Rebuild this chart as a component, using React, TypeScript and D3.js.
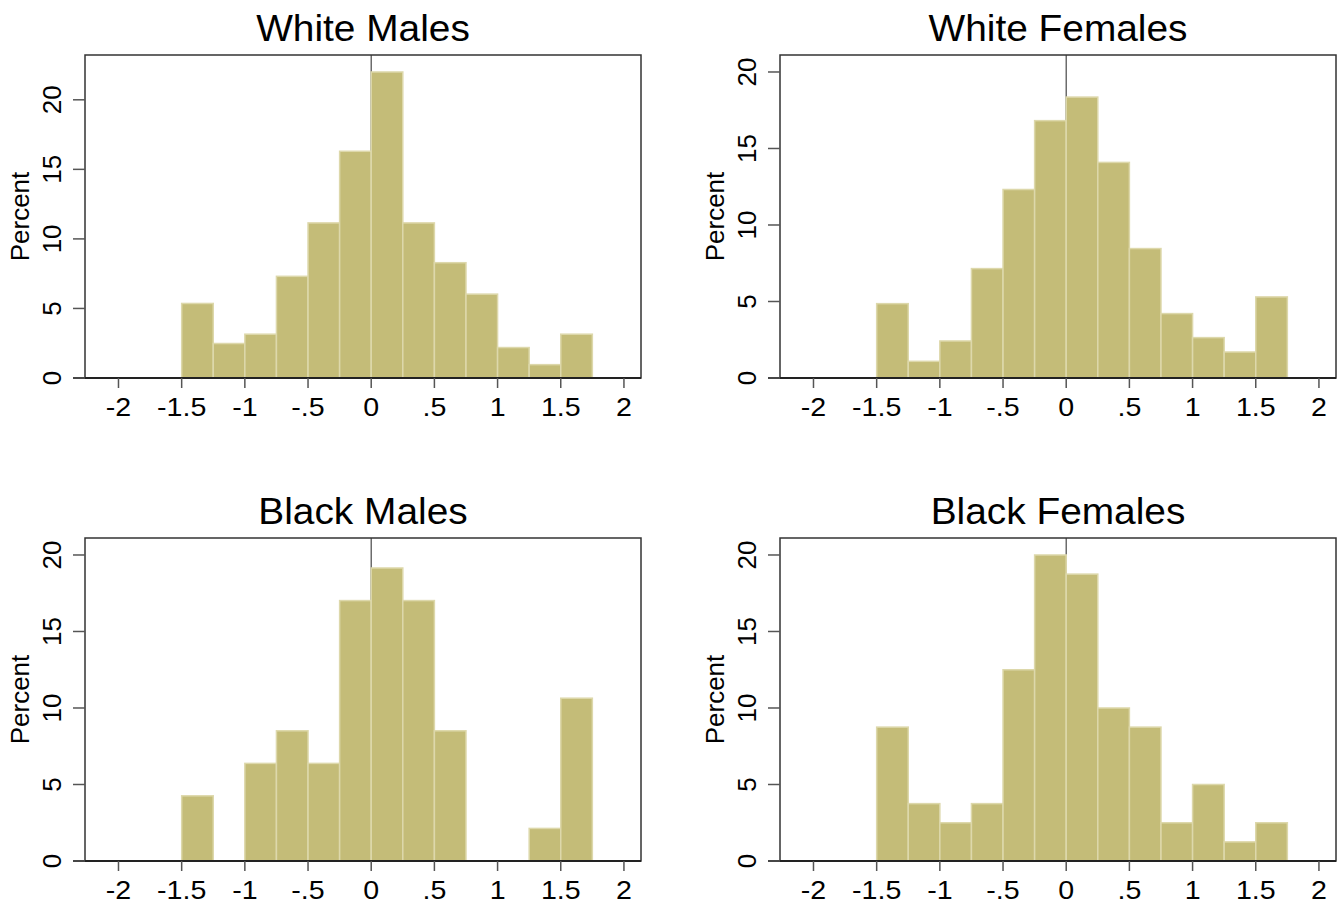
import React from "react";
import * as d3 from "d3";

const binEdges = [-1.5, -1.25, -1, -0.75, -0.5, -0.25, 0, 0.25, 0.5, 0.75, 1, 1.25, 1.5, 1.75];

const whiteMales = [5.36, 2.48, 3.15, 7.31, 11.15, 16.3, 22.0, 11.15, 8.29, 6.03, 2.19, 0.96, 3.15];
const whiteFemales = [4.86, 1.09, 2.42, 7.15, 12.32, 16.82, 18.36, 14.09, 8.46, 4.21, 2.64, 1.7, 5.3];
const blackMales = [4.26, 0, 6.38, 8.51, 6.38, 17.02, 19.15, 17.02, 8.51, 0, 0, 2.13, 10.64];
const blackFemales = [8.75, 3.75, 2.5, 3.75, 12.5, 20.0, 18.75, 10.0, 8.75, 2.5, 5.0, 1.25, 2.5];

const panelTitles = ["White Males", "White Females", "Black Males", "Black Females"];
const panelSeries = [whiteMales, whiteFemales, blackMales, blackFemales];

const xTicks = [-2, -1.5, -1, -0.5, 0, 0.5, 1, 1.5, 2];
const xTickLabels = ["-2", "-1.5", "-1", "-.5", "0", ".5", "1", "1.5", "2"];
const yTicks = [0, 5, 10, 15, 20];
const yTickLabels = ["0", "5", "10", "15", "20"];
const yTitle = "Percent";

const FONT = "'Liberation Sans', Arial, Helvetica, sans-serif";
const FILL = "#c4bc78";
const BAR_STROKE = "#ddd8ab";

const plotW = 556;
const plotH = 323;
const origins = [
  [85, 55],
  [780, 55],
  [85, 538],
  [780, 538],
];

function Panel({ title, values, ox, oy }: { title: string; values: number[]; ox: number; oy: number }) {
  const x = d3.scaleLinear().domain([-2.265, 2.135]).range([0, plotW]);
  const yMax = Math.max(d3.max(values) as number, 20) * 1.0555;
  const y = d3.scaleLinear().domain([0, yMax]).range([plotH, 0]);
  const bars = values.map((v, i) => ({ x0: binEdges[i], x1: binEdges[i + 1], v }));
  return (
    <g transform={`translate(${ox},${oy})`}>
      <text
        transform={`translate(${plotW / 2},${-14}) scale(1.05,1)`}
        textAnchor="middle"
        fontFamily={FONT}
        fontSize={37}
        fill="#000"
      >
        {title}
      </text>
      <rect x={0} y={0} width={plotW} height={plotH} fill="#fff" />
      <line x1={x(0)} x2={x(0)} y1={0} y2={plotH} stroke="#555" strokeWidth={1.3} />
      {bars
        .filter((b) => b.v > 0)
        .map((b, i) => (
          <rect
            key={i}
            x={x(b.x0)}
            y={y(b.v)}
            width={x(b.x1) - x(b.x0)}
            height={plotH - y(b.v)}
            fill={FILL}
            stroke={BAR_STROKE}
            strokeWidth={1.5}
          />
        ))}
      <rect x={0} y={0} width={plotW} height={plotH} fill="none" stroke="#333" strokeWidth={1.5} />
      <line x1={-12} x2={plotW} y1={plotH} y2={plotH} stroke="#222" strokeWidth={2} />
      {yTicks.map((t, i) => (
        <g key={"y" + i}>
          <line x1={-12} x2={0} y1={y(t)} y2={y(t)} stroke="#555" strokeWidth={1.5} />
          <text
            transform={`translate(${-24},${y(t)}) rotate(-90)`}
            textAnchor="middle"
            fontFamily={FONT}
            fontSize={26}
            fill="#000"
          >
            {yTickLabels[i]}
          </text>
        </g>
      ))}
      {xTicks.map((t, i) => (
        <g key={"x" + i}>
          <line x1={x(t)} x2={x(t)} y1={plotH} y2={plotH + 10} stroke="#555" strokeWidth={1.5} />
          <text
            transform={`translate(${x(t)},${plotH + 38}) scale(1.1,1)`}
            textAnchor="middle"
            fontFamily={FONT}
            fontSize={26}
            fill="#000"
          >
            {xTickLabels[i]}
          </text>
        </g>
      ))}
      <text
        transform={`translate(${-56},${plotH / 2}) rotate(-90)`}
        textAnchor="middle"
        fontFamily={FONT}
        fontSize={26}
        fill="#000"
      >
        {yTitle}
      </text>
    </g>
  );
}

export default function App() {
  return (
    <svg
      width={1343}
      height={905}
      style={{ position: "absolute", left: 0, top: 0, background: "#fff" }}
    >
      <rect x={0} y={0} width={1343} height={905} fill="#fff" />
      {panelSeries.map((vals, i) => (
        <Panel key={i} title={panelTitles[i]} values={vals} ox={origins[i][0]} oy={origins[i][1]} />
      ))}
    </svg>
  );
}
